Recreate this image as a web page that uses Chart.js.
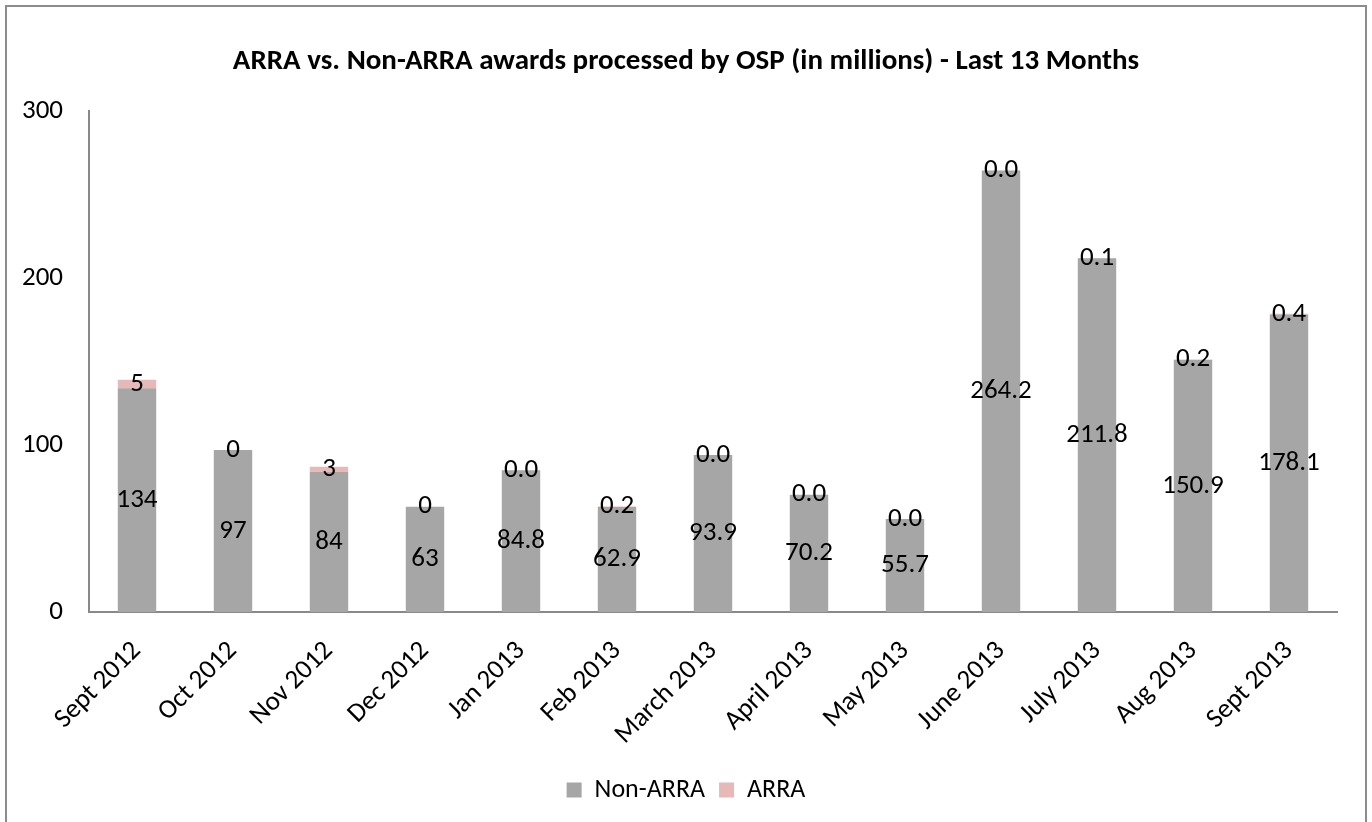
<!DOCTYPE html>
<html>
<head>
<meta charset="utf-8">
<script src="https://cdn.jsdelivr.net/npm/chart.js@4.4.0/dist/chart.umd.min.js"></script>
<style>
  html,body{margin:0;padding:0;background:#fff;}
  canvas{display:block;}
</style>
</head>
<body>
<canvas id="awardsChart" width="1372" height="822"></canvas>
<script>
/* DATA */
const months = ['Sept 2012','Oct 2012','Nov 2012','Dec 2012','Jan 2013','Feb 2013','March 2013',
                'April 2013','May 2013','June 2013','July 2013','Aug 2013','Sept 2013'];
const nonArra = [134, 97, 84, 63, 84.8, 62.9, 93.9, 70.2, 55.7, 264.2, 211.8, 150.9, 178.1];
const arra    = [5, 0, 3, 0, 0.0, 0.2, 0.0, 0.0, 0.0, 0.0, 0.1, 0.2, 0.4];
const labelDecimals = [0, 0, 0, 0, 1, 1, 1, 1, 1, 1, 1, 1, 1];
const yTicks = [0, 100, 200, 300];

const FONT = 'Carlito, Lato, "Open Sans", sans-serif';

/* outer frame + white bg */
const framePlugin = {
  id:'frame',
  beforeDraw(chart){
    const c = chart.ctx;
    c.save();
    c.fillStyle = '#fff';
    c.fillRect(0,0,chart.width,chart.height);
    c.strokeStyle = '#8c8c8c';
    c.lineWidth = 2;
    c.strokeRect(6,6,1360,840);
    c.restore();
  }
};

/* value labels centred in each segment */
const valueLabels = {
  id:'valueLabels',
  afterDatasetsDraw(chart){
    const c = chart.ctx;
    c.save();
    c.font = '27px ' + FONT;
    c.fillStyle = '#000';
    c.textAlign = 'center';
    c.textBaseline = 'middle';
    chart.data.datasets.forEach((ds,di)=>{
      chart.getDatasetMeta(di).data.forEach((bar,i)=>{
        const txt = ds.data[i].toFixed(labelDecimals[i]);
        c.fillText(txt, bar.x, (bar.y + bar.base)/2);
      });
    });
    c.restore();
  }
};

new Chart(document.getElementById('awardsChart'),{
  type:'bar',
  data:{
    labels:months,
    datasets:[
      {label:'Non-ARRA',data:nonArra,backgroundColor:'#a6a6a6',categoryPercentage:1,barPercentage:0.4},
      {label:'ARRA',data:arra,backgroundColor:'#e6b9b8',categoryPercentage:1,barPercentage:0.4}
    ]
  },
  options:{
    responsive:false,
    animation:false,
    layout:{padding:{left:0,right:0,top:0,bottom:9}},
    plugins:{
      title:{
        display:true,
        text:'ARRA vs. Non-ARRA awards processed by OSP (in millions) - Last 13 Months',
        color:'#000',
        font:{family:FONT,size:29,weight:'bold'},
        padding:{top:44,bottom:32}
      },
      legend:{
        position:'bottom',
        labels:{
          color:'#000',
          font:{family:FONT,size:26},
          boxWidth:15,boxHeight:15,
          padding:14
        }
      },
      tooltip:{enabled:false}
    },
    scales:{
      x:{
        stacked:true,
        grid:{display:false,drawTicks:false},
        border:{display:true,color:'#898989',width:2},
        ticks:{color:'#000',font:{family:FONT,size:27},minRotation:45,maxRotation:45,padding:23},
        afterFit(s){ s.height = 151; }
      },
      y:{
        stacked:true,
        min:0,max:300,
        afterBuildTicks(s){ s.ticks = yTicks.map(v=>({value:v})); },
        grid:{display:false,drawTicks:false},
        border:{display:true,color:'#898989',width:2},
        ticks:{color:'#000',font:{family:FONT,size:27},padding:26},
        afterFit(s){ s.width = 89; }
      },
      yRight:{
        position:'right',
        display:true,
        grid:{display:false,drawTicks:false},
        border:{display:false},
        ticks:{display:false},
        afterFit(s){ s.width = 35; }
      }
    }
  },
  plugins:[framePlugin,valueLabels]
});
</script>
</body>
</html>
